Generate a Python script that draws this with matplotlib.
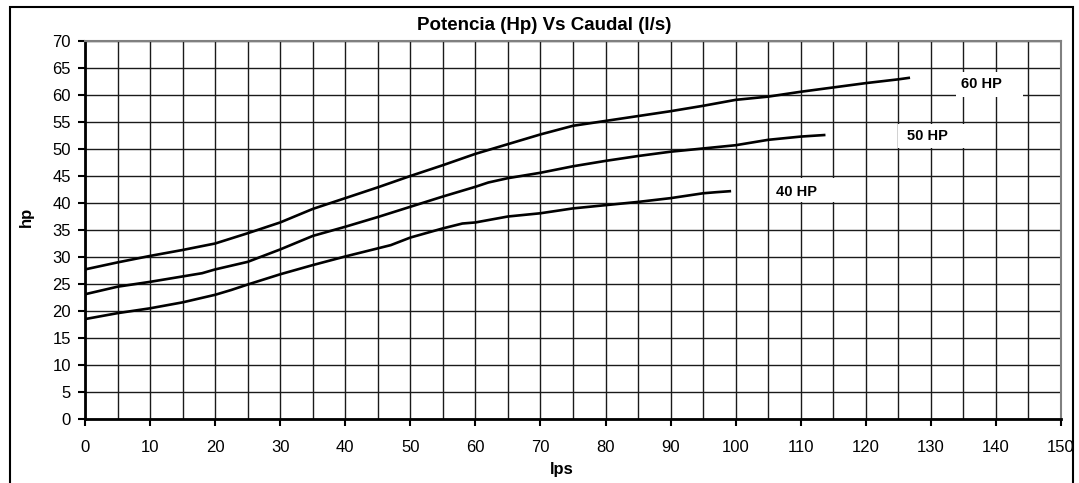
import matplotlib
matplotlib.use("Agg")
import matplotlib.pyplot as plt
from matplotlib.patches import Rectangle
from matplotlib.ticker import MultipleLocator

plt.rcParams['font.family'] = ['Liberation Sans', 'DejaVu Sans']

# Data
x60 = [0, 5, 10, 15, 20, 25, 28, 30, 35, 40, 45, 50, 55, 60, 65, 70, 75, 80, 85, 90,
       95, 100, 105, 110, 115, 120, 125, 126.8]
y60 = [27.7, 29.0, 30.2, 31.3, 32.5, 34.4, 35.6, 36.4, 38.9, 40.9, 42.9, 45.0, 47.0,
       49.1, 50.9, 52.7, 54.3, 55.2, 56.1, 57.0, 58.0, 59.1, 59.7, 60.6, 61.4, 62.2,
       62.9, 63.2]

x50 = [0, 5, 10, 15, 18, 20, 25, 30, 32, 35, 40, 45, 50, 55, 60, 62, 65, 70, 75, 80,
       85, 90, 95, 100, 105, 110, 113.8]
y50 = [23.1, 24.5, 25.4, 26.4, 27.0, 27.7, 29.1, 31.4, 32.4, 33.9, 35.6, 37.4, 39.3,
       41.2, 43.0, 43.8, 44.6, 45.6, 46.8, 47.8, 48.7, 49.5, 50.1, 50.7, 51.7, 52.3, 52.6]

x40 = [0, 5, 10, 15, 20, 22.5, 25, 30, 35, 40, 45, 47, 50, 55, 58, 60, 65, 70, 75, 80,
       85, 90, 95, 97, 99.3]
y40 = [18.5, 19.6, 20.5, 21.6, 23.0, 23.9, 24.9, 26.8, 28.5, 30.1, 31.6, 32.2, 33.6,
       35.3, 36.2, 36.4, 37.5, 38.1, 39.0, 39.6, 40.2, 40.9, 41.8, 42.0, 42.2]

curve_labels = ["60 HP", "50 HP", "40 HP"]
label_pos = [(134.7, 62.0), (126.3, 52.4), (106.2, 42.0)]
label_boxes = [(133.9, 59.7, 10.2, 4.6), (125.0, 50.2, 14.9, 4.5), (105.4, 40.1, 12.2, 4.5)]

title = "Potencia (Hp) Vs Caudal (l/s)"
xlabel = "lps"
ylabel = "hp"

fig = plt.figure(figsize=(10.79, 4.83), dpi=100)
ax = fig.add_axes([85 / 1079, 1 - 419 / 483, 976 / 1079, 378 / 483])

for xs, ys in [(x60, y60), (x50, y50), (x40, y40)]:
    ax.plot(xs, ys, color='black', lw=1.9, zorder=3, solid_capstyle='butt')

for (lx, ly), (bx, by, bw, bh), txt in zip(label_pos, label_boxes, curve_labels):
    ax.add_patch(Rectangle((bx, by), bw, bh, facecolor='white', edgecolor='none', zorder=4))
    ax.text(lx, ly, txt, fontsize=10.5, fontweight='bold', ha='left', va='center', zorder=5)

ax.set_xlim(0, 150)
ax.set_ylim(0, 70)
ax.xaxis.set_major_locator(MultipleLocator(10))
ax.xaxis.set_minor_locator(MultipleLocator(5))
ax.yaxis.set_major_locator(MultipleLocator(5))
ax.grid(True, which='both', axis='x', color='#1a1a1a', lw=1.0, zorder=1)
ax.grid(True, which='major', axis='y', color='#1a1a1a', lw=1.0, zorder=1)
ax.set_axisbelow(True)

ax.tick_params(axis='x', which='major', direction='out', length=5, width=1.5, pad=10, labelsize=12)
ax.tick_params(axis='x', which='minor', length=0)
ax.tick_params(axis='y', which='major', direction='out', length=5, width=1.5, pad=5, labelsize=12)

for s in ['left', 'bottom']:
    ax.spines[s].set_linewidth(2.0)
    ax.spines[s].set_color('black')
for s in ['top', 'right']:
    ax.spines[s].set_linewidth(1.5)
    ax.spines[s].set_color('#808080')

ax.set_xlabel(xlabel, fontsize=12, fontweight='bold')
ax.xaxis.set_label_coords(0.488, -0.114)
ax.set_ylabel(ylabel, fontsize=12, fontweight='bold')
ax.yaxis.set_label_coords(-0.052, 0.535)

fig.text(544 / 1079, 1 - 26 / 483, title, fontsize=13.5, fontweight='bold', ha='center', va='center')

fig.patches.append(Rectangle((10 / 1079, -0.1), 1063 / 1079, 1.1 - 7 / 483,
                             transform=fig.transFigure, facecolor='none',
                             edgecolor='black', lw=1.5, zorder=0))

fig.savefig("out.png", dpi=100)
